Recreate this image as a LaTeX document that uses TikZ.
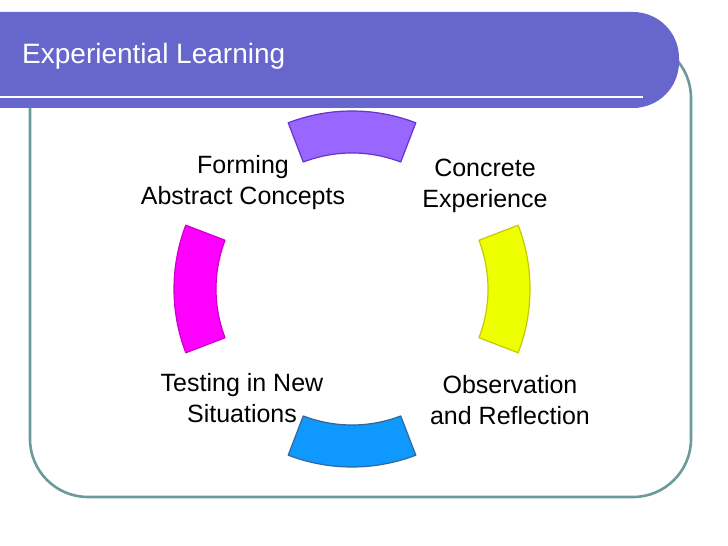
\documentclass[tikz,border=0pt]{standalone}
\usepackage{fontspec}
\setmainfont{Liberation Sans}
\definecolor{bandcol}{RGB}{102,102,204}
\definecolor{framecol}{RGB}{106,154,154}
\definecolor{purplefill}{RGB}{153,102,255}
\definecolor{purpleline}{RGB}{102,51,204}
\definecolor{yellowfill}{RGB}{238,255,0}
\definecolor{yellowline}{RGB}{200,200,0}
\definecolor{bluefill}{RGB}{15,153,255}
\definecolor{blueline}{RGB}{51,102,153}
\definecolor{magfill}{RGB}{255,0,255}
\definecolor{magline}{RGB}{204,0,204}
\tikzset{
  lbl/.style={font=\fontsize{25}{31}\selectfont, align=center, inner sep=0pt, anchor=north, text=black},
  seg/.style={line width=1.2pt, line join=round},
}
\begin{document}
\begin{tikzpicture}[x=1pt,y=1pt]
\useasboundingbox (0,0) rectangle (728,546);
\fill[white] (0,0) rectangle (728,546);
% frame
\draw[framecol, line width=2.6pt, rounded corners=58pt] (30,49) rectangle (691,506);
% header band
\fill[bandcol] (0,534) -- (633,534) arc[start angle=90, end angle=0, radius=46] -- (679,484) arc[start angle=0, end angle=-90, radius=46] -- (0,438) -- cycle;
\draw[white, line width=2pt] (0,449) -- (643,449);
\node[font=\fontsize{28}{34}\selectfont, text=white, inner sep=0pt, anchor=base west] (title) at (22,482) {Experiential Learning};
% labels
\node[lbl] (abstract) at (243,394.7) {\strut Forming\\Abstract Concepts};
\node[lbl] (concrete) at (485,391.7) {\strut Concrete\\Experience};
\node[lbl] (testing) at (242,176.7) {\strut Testing in New\\Situations};
\node[lbl] (observation) at (510,174.7) {\strut Observation\\and Reflection};
% ring segments
\begin{scope}[shift={(352,257)}]
\draw[seg, draw=purpleline, fill=purplefill] (69:178) arc[start angle=69, end angle=111, radius=178] -- (111:136) arc[start angle=111, end angle=69, radius=136] -- cycle;
\draw[seg, draw=yellowline, fill=yellowfill] (-21:178) arc[start angle=-21, end angle=21, radius=178] -- (21:136) arc[start angle=21, end angle=-21, radius=136] -- cycle;
\draw[seg, draw=blueline, fill=bluefill] (249:178) arc[start angle=249, end angle=291, radius=178] -- (291:136) arc[start angle=291, end angle=249, radius=136] -- cycle;
\draw[seg, draw=magline, fill=magfill] (159:178) arc[start angle=159, end angle=201, radius=178] -- (201:136) arc[start angle=201, end angle=159, radius=136] -- cycle;
\end{scope}
\end{tikzpicture}
\end{document}
